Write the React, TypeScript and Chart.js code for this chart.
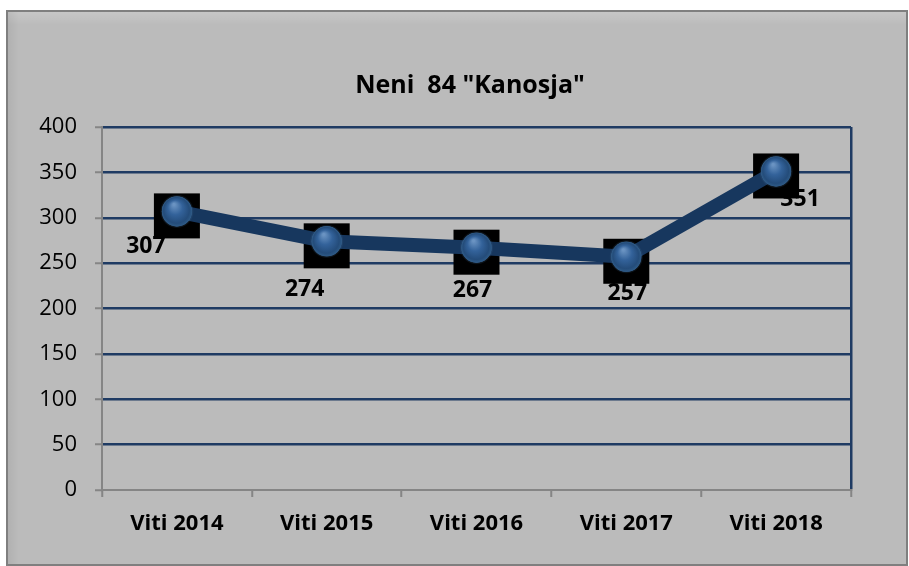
import React, { useEffect, useRef } from "react";
import { Chart, registerables } from "chart.js";

Chart.register(...registerables);

const categories = ["Viti 2014", "Viti 2015", "Viti 2016", "Viti 2017", "Viti 2018"];
const values = [307, 274, 267, 257, 351];
const yTicks = [0, 50, 100, 150, 200, 250, 300, 350, 400];
const titleText = 'Neni  84 "Kanosja"';

const NAVY = "#1F3B63";
const LINE = "#17375E";
const AXIS_GREY = "#858585";
const FONT = "'Open Sans', Lato, 'Noto Sans', sans-serif";

// label offsets from point centre (style only)
const labelOffsets = [
  [-31, 35],
  [-22, 48],
  [-4, 43],
  [1, 37],
  [24, 28],
];

const decorPlugin = {
  id: "decor",
  beforeDraw(chart: any) {
    const { ctx, width, height } = chart;
    ctx.save();
    ctx.fillStyle = "#FFFFFF";
    ctx.fillRect(0, 0, width, height);
    const x0 = 7, y0 = 11, x1 = 907, y1 = 565;
    ctx.fillStyle = "#BBBBBB";
    ctx.fillRect(x0, y0, x1 - x0, y1 - y0);
    const g = ctx.createLinearGradient(0, y0, 0, y0 + 14);
    g.addColorStop(0, "rgba(255,255,255,0.18)");
    g.addColorStop(1, "rgba(255,255,255,0)");
    ctx.fillStyle = g;
    ctx.fillRect(x0, y0, x1 - x0, 14);
    const gl = ctx.createLinearGradient(x0, 0, x0 + 12, 0);
    gl.addColorStop(0, "rgba(0,0,0,0.06)");
    gl.addColorStop(1, "rgba(0,0,0,0)");
    ctx.fillStyle = gl;
    ctx.fillRect(x0, y0, 12, y1 - y0);
    ctx.strokeStyle = "#7F7F7F";
    ctx.lineWidth = 2;
    ctx.strokeRect(x0, y0, x1 - x0, y1 - y0);
    ctx.fillStyle = "#000000";
    ctx.font = "bold 25px " + FONT;
    ctx.textAlign = "center";
    ctx.textBaseline = "alphabetic";
    ctx.fillText(titleText, 470, 93);
    ctx.restore();
  },
  beforeDatasetsDraw(chart: any) {
    const { ctx } = chart;
    const meta = chart.getDatasetMeta(0);
    ctx.save();
    ctx.fillStyle = "#000000";
    ctx.font = "bold 23px " + FONT;
    ctx.textAlign = "center";
    ctx.textBaseline = "middle";
    meta.data.forEach((pt: any, i: number) => {
      const [dx, dy] = labelOffsets[i];
      ctx.fillText(String(values[i]), pt.x + dx, pt.y + dy);
    });
    ctx.fillStyle = "#000000";
    meta.data.forEach((pt: any) => {
      ctx.fillRect(pt.x - 23, pt.y - 18, 46, 45);
    });
    ctx.restore();
  },
  afterDatasetsDraw(chart: any) {
    const { ctx } = chart;
    const meta = chart.getDatasetMeta(0);
    ctx.save();
    meta.data.forEach((pt: any) => {
      const r = 15;
      const glow = ctx.createRadialGradient(pt.x, pt.y, r - 2, pt.x, pt.y, r + 2);
      glow.addColorStop(0, "rgba(70,110,150,0.6)");
      glow.addColorStop(1, "rgba(70,110,150,0)");
      ctx.fillStyle = glow;
      ctx.beginPath();
      ctx.arc(pt.x, pt.y, r + 2, 0, Math.PI * 2);
      ctx.fill();
      const g = ctx.createRadialGradient(pt.x - 3, pt.y - 7, 1, pt.x, pt.y, r);
      g.addColorStop(0, "#6A93C2");
      g.addColorStop(0.45, "#33629A");
      g.addColorStop(0.85, "#244C7A");
      g.addColorStop(1, "#2E5A86");
      ctx.fillStyle = g;
      ctx.beginPath();
      ctx.arc(pt.x, pt.y, r, 0, Math.PI * 2);
      ctx.fill();
    });
    ctx.restore();
  },
};

export default function App() {
  const ref = useRef<HTMLCanvasElement | null>(null);
  useEffect(() => {
    document.body.style.margin = "0";
    const canvas = ref.current!;
    const chart = new Chart(canvas, {
      type: "line",
      data: {
        labels: categories,
        datasets: [
          {
            data: values,
            borderColor: LINE,
            borderWidth: 14,
            borderJoinStyle: "round",
            tension: 0,
            pointRadius: 15,
            pointHoverRadius: 15,
            pointBackgroundColor: "#2F5B8E",
            pointBorderWidth: 0,
          },
        ],
      },
      options: {
        responsive: false,
        animation: false,
        events: [],
        layout: { padding: { left: 0, right: 58, top: 127, bottom: 0 } },
        plugins: {
          legend: { display: false },
          title: { display: false },
          tooltip: { enabled: false },
        },
        scales: {
          x: {
            offset: true,
            afterFit: (s: any) => {
              s.height = 76;
            },
            grid: {
              offset: true,
              color: (c: any) => (c.index === undefined ? NAVY : "rgba(0,0,0,0)"),
              lineWidth: 2.5,
              tickColor: AXIS_GREY,
              tickLength: 7,
              tickWidth: 2,
            },
            border: { display: true, color: AXIS_GREY, width: 2 },
            ticks: {
              color: "#000000",
              font: { family: FONT, size: 22, weight: "bold" },
              padding: 14,
              maxRotation: 0,
            },
          },
          y: {
            min: 0,
            max: 400,
            afterFit: (s: any) => {
              s.width = 102;
            },
            afterBuildTicks: (s: any) => {
              s.ticks = yTicks.map((v) => ({ value: v }));
            },
            grid: {
              color: (c: any) => (c.tick && c.tick.value === 0 ? "rgba(0,0,0,0)" : NAVY),
              lineWidth: 2.5,
              tickColor: AXIS_GREY,
              tickLength: 7,
              tickWidth: 2,
            },
            border: { display: true, color: AXIS_GREY, width: 2 },
            ticks: {
              color: "#000000",
              font: { family: FONT, size: 22 },
              padding: 18,
            },
          },
        },
      },
      plugins: [decorPlugin],
    });
    return () => chart.destroy();
  }, []);
  return (
    <div style={{ width: 909, height: 566 }}>
      <canvas ref={ref} width={909} height={566} style={{ display: "block" }} />
    </div>
  );
}
